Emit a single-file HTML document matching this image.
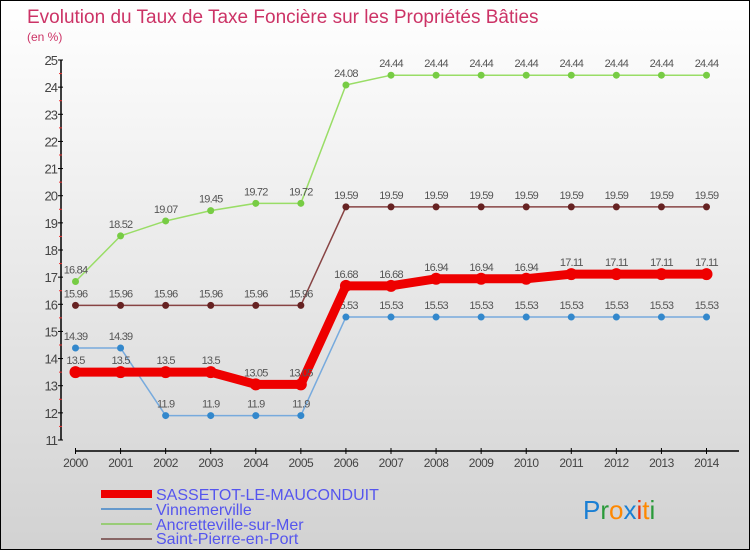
<!DOCTYPE html>
<html><head><meta charset="utf-8"><style>
body{margin:0;}
#wrap{width:748px;height:548px;border:1px solid #000;background:linear-gradient(#ffffff,#d2d2d2);position:relative;font-family:"Liberation Sans",sans-serif;overflow:hidden;}
</style></head><body>
<div id="wrap">
<svg id="chart" width="748" height="548" xmlns="http://www.w3.org/2000/svg">
<text x="26" y="22" font-size="19" fill="#cc3366">Evolution du Taux de Taxe Foncière sur les Propriétés Bâties</text>
<text x="26" y="40" font-size="12" fill="#cc3366">(en %)</text>
<g id="axes"></g>
<g id="series"></g>
<g id="legend">
<rect x="100" y="489" width="51" height="8" fill="#ee0000"/>
<text x="155" y="499" font-size="16" fill="#5555ee">SASSETOT-LE-MAUCONDUIT</text>
<rect x="100" y="507" width="51" height="2" fill="#6699cc"/>
<text x="155" y="514" font-size="16" fill="#5555ee">Vinnemerville</text>
<rect x="100" y="522" width="51" height="2" fill="#99cc77"/>
<text x="155" y="529" font-size="16" fill="#5555ee">Ancretteville-sur-Mer</text>
<rect x="100" y="537" width="51" height="2" fill="#886666"/>
<text x="155" y="543" font-size="16" fill="#5555ee">Saint-Pierre-en-Port</text>
</g>
<g font-size="26" font-family="Liberation Sans, sans-serif">
<text x="582" y="518"><tspan fill="#1a7fd4">P</tspan><tspan fill="#2a9a3a">r</tspan><tspan fill="#ff8800">o</tspan><tspan fill="#1a7fd4">x</tspan><tspan fill="#ee3311">i</tspan><tspan fill="#ff8800">t</tspan><tspan fill="#2a9a3a">i</tspan></text>
</g>
</svg>
</div>
<script>
const years=[2000,2001,2002,2003,2004,2005,2006,2007,2008,2009,2010,2011,2012,2013,2014];
const yTicks=[11,12,13,14,15,16,17,18,19,20,21,22,23,24,25];
const sassetot=[13.5,13.5,13.5,13.5,13.05,13.05,16.68,16.68,16.94,16.94,16.94,17.11,17.11,17.11,17.11];
const vinnemerville=[14.39,14.39,11.9,11.9,11.9,11.9,15.53,15.53,15.53,15.53,15.53,15.53,15.53,15.53,15.53];
const ancretteville=[16.84,18.52,19.07,19.45,19.72,19.72,24.08,24.44,24.44,24.44,24.44,24.44,24.44,24.44,24.44];
const saintPierre=[15.96,15.96,15.96,15.96,15.96,15.96,19.59,19.59,19.59,19.59,19.59,19.59,19.59,19.59,19.59];
const NS="http://www.w3.org/2000/svg";
function xs(i){return 74.5+i*(705.5-74.5)/(years.length-1);}
function ys(v){return 439-(v-11)*(380/14);}
function mk(tag,attrs,parent){const e=document.createElementNS(NS,tag);for(const k in attrs)e.setAttribute(k,attrs[k]);parent.appendChild(e);return e;}
const axes=document.getElementById('axes');
let yl=mk('line',{x1:60,y1:ys(25),x2:60,y2:ys(11),stroke:'#000','stroke-width':1.5},axes);


yTicks.forEach(t=>{
 mk('line',{x1:57,x2:62,y1:ys(t),y2:ys(t),stroke:'#000'},axes);
 if(t<25) mk('line',{x1:58,x2:61,y1:ys(t+0.5),y2:ys(t+0.5),stroke:'#ee3333'},axes);
 const tx=mk('text',{x:56,y:ys(t)+5,'font-size':13,fill:'#444','text-anchor':'end','letter-spacing':'-1'},axes);
 tx.textContent=t;
 
 
});
let xl=mk('line',{x1:74.5,y1:450,x2:738,y2:450,stroke:'#000','stroke-width':1.5},axes);


years.forEach((y,i)=>{
 mk('line',{x1:xs(i),x2:xs(i),y1:447,y2:453,stroke:'#000'},axes);
 const tx=mk('text',{x:xs(i),y:466,'font-size':12,fill:'#444','text-anchor':'middle','letter-spacing':'-0.5'},axes);
 tx.textContent=y;
 
 
});
const ser=document.getElementById('series');
function drawSeries(vals,color,w,r,name,dot){
 const g=mk('g',{},ser);
 
 
 const pl=mk('polyline',{points:vals.map((v,i)=>xs(i)+','+ys(v)).join(' '),fill:'none',stroke:color,'stroke-width':w,'stroke-linejoin':'round'},g);
 
 
 vals.forEach((v,i)=>{
  const c=mk('circle',{cx:xs(i),cy:ys(v),r:r,fill:dot},g);
  
  
  const t=mk('text',{x:xs(i),y:ys(v)-8,'font-size':11,fill:'#555','text-anchor':'middle','letter-spacing':'-0.8'},g);
  t.textContent=v;
  
  
 });
}
drawSeries(vinnemerville,'#77aadd',1.5,3.5,'vinnemerville','#3388cc');
drawSeries(ancretteville,'#99dd66',1.5,3.5,'ancretteville','#77cc44');
drawSeries(saintPierre,'#884444',1.5,3.5,'saint-pierre','#662222');
drawSeries(sassetot,'#ee0000',9,6,'sassetot','#ee0000');
</script>
</body></html>
